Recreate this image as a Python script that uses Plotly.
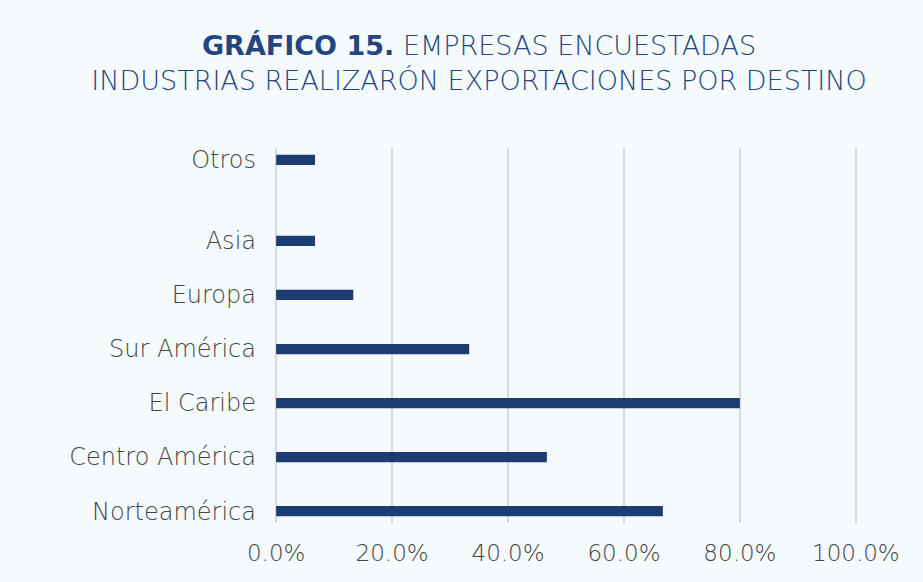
import plotly.graph_objects as go

categories = ["Norteamérica", "Centro América", "El Caribe", "Sur América", "Europa", "Asia", "Otros"]
values = [66.7, 46.7, 80.0, 33.3, 13.3, 6.7, 6.7]
x_ticks = [0, 20, 40, 60, 80, 100]
x_tick_labels = ["0.0%", "20.0%", "40.0%", "60.0%", "80.0%", "100.0%"]

# Otros sits 1.5 steps above Asia in the original layout
ypos = list(range(len(categories) - 1)) + [len(categories) - 1 + 0.5]

BG = "#f5fafd"
NAVY = "#1d3c72"
FONT = "'DejaVu Sans', 'Open Sans', sans-serif"
TICK = "#444444"

fig = go.Figure(go.Bar(
    x=values, y=ypos, orientation="h",
    marker=dict(color=NAVY, line=dict(width=0)),
    width=0.19,
    hoverinfo="x+text", text=categories, textposition="none",
))

fig.update_layout(
    width=923, height=582,
    paper_bgcolor=BG, plot_bgcolor=BG,
    margin=dict(l=275, r=66, t=148, b=59),
    showlegend=False,
    font=dict(family=FONT, color=TICK),
    title=dict(
        text="<b>GRÁFICO 15.</b> EMPRESAS ENCUESTADAS<br>INDUSTRIAS REALIZARÓN EXPORTACIONES POR DESTINO",
        x=479 / 923, xref="container", xanchor="center",
        y=1 - 55 / 582, yref="container", yanchor="middle",
        font=dict(size=27, color="#24457f", family=FONT, weight=300),
    ),
    xaxis=dict(
        range=[-0.2, 100.2], tickvals=x_ticks, ticktext=x_tick_labels,
        showgrid=True, gridcolor="#d9d9d9", gridwidth=2,
        zeroline=True, zerolinecolor="#d9d9d9", zerolinewidth=2,
        showline=False, ticks="",
        tickfont=dict(size=23, color=TICK, weight=300),
        ticklabelstandoff=14,
    ),
    yaxis=dict(
        range=[-0.22, 6.72], tickvals=ypos, ticktext=categories,
        showgrid=False, zeroline=False, showline=False, ticks="",
        tickfont=dict(size=24, color=TICK, weight=300),
        ticklabelstandoff=18,
    ),
)

fig.write_html("out.html", config={"displayModeBar": False},
               post_script="document.body.style.margin='0';")
